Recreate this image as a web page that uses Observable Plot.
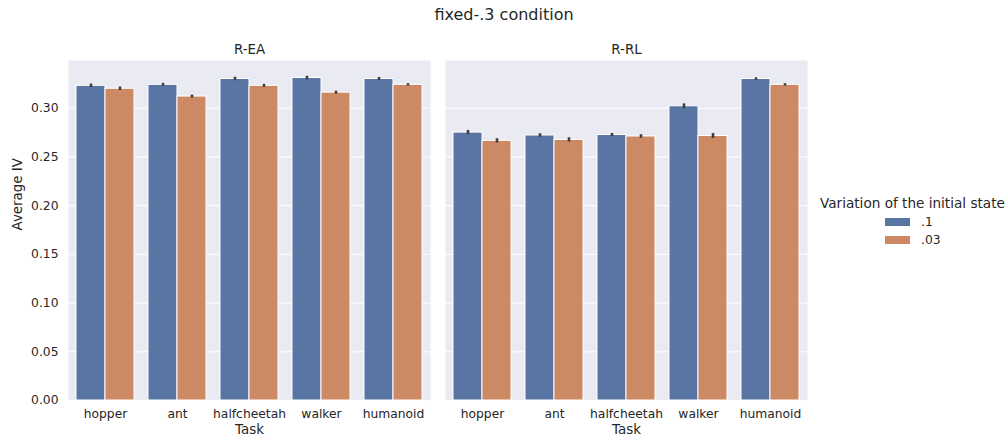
<!DOCTYPE html>
<html><head><meta charset="utf-8">
<script src="https://cdn.jsdelivr.net/npm/d3@7"></script>
<script src="https://cdn.jsdelivr.net/npm/@observablehq/plot@0.6"></script>
<style>
body{margin:0;background:#fff;font-family:"DejaVu Sans",sans-serif;color:#262626;}
#wrap{position:relative;width:1008px;height:441px;overflow:hidden;}
#title{position:absolute;left:0;top:0;width:1008px;text-align:center;font-size:16px;line-height:30px;}
#chart{position:absolute;left:0;top:28px;}
#legend{position:absolute;left:820px;top:195px;font-size:13.6px;white-space:nowrap;}
#legend .t{margin-bottom:2px;}
#legend .it{display:flex;align-items:center;margin-left:65px;height:18px;font-size:12.3px;}
#legend .sw{width:25px;height:8px;margin-right:11px;}
</style></head>
<body><div id="wrap"><div id="title">fixed-.3 condition</div><div id="chart"></div>
<div id="legend"><div class="t">Variation of the initial state</div>
<div class="it"><div class="sw" style="background:#5975a4"></div>.1</div>
<div class="it"><div class="sw" style="background:#cc8963"></div>.03</div></div></div>
<script>
const tasks = ["hopper","ant","halfcheetah","walker","humanoid"];
const panels = ["R-EA","R-RL"];
const variations = [".1",".03"];
const reaV1  = [0.323, 0.324, 0.330, 0.331, 0.330];
const reaV03 = [0.320, 0.312, 0.323, 0.316, 0.324];
const rrlV1  = [0.275, 0.272, 0.2725, 0.302, 0.330];
const rrlV03 = [0.2665, 0.2675, 0.271, 0.2715, 0.324];
const reaErrV1  = [0.0018, 0.0015, 0.0018, 0.0018, 0.0015];
const reaErrV03 = [0.0018, 0.0015, 0.0015, 0.0015, 0.0012];
const rrlErrV1  = [0.0022, 0.0018, 0.0016, 0.0025, 0.0012];
const rrlErrV03 = [0.0022, 0.0022, 0.0018, 0.0025, 0.0012];
const yTicks = [0, 0.05, 0.10, 0.15, 0.20, 0.25, 0.30];

const rows = [];
const series = [
  ["R-EA", ".1", reaV1, reaErrV1], ["R-EA", ".03", reaV03, reaErrV03],
  ["R-RL", ".1", rrlV1, rrlErrV1], ["R-RL", ".03", rrlV03, rrlErrV03]
];
for (const [panel, variation, vals, errs] of series)
  tasks.forEach((task, i) => rows.push({panel, variation, task, value: vals[i], err: errs[i]}));

const W = 1008, H = 413, mL = 68, mR = 200, mT = 32, mB = 41;
const gap = 15;
const facetPad = (2 * gap) / ((W - mL - mR) + gap);
const facetBand = ((W - mL - mR) - gap) / 2;
const half = (facetBand / 5) * 0.8 / 2;

const colors = {".1": "#5975a4", ".03": "#cc8963"};
const v1 = rows.filter(d => d.variation === ".1");
const v03 = rows.filter(d => d.variation === ".03");

const chart = Plot.plot({
  width: W, height: H, marginLeft: mL, marginRight: mR, marginTop: mT, marginBottom: mB,
  style: {fontFamily: "DejaVu Sans, sans-serif", fontSize: "12.3px", color: "#262626", background: "transparent"},
  fx: {domain: panels, paddingInner: facetPad, paddingOuter: 0, label: null},
  x: {domain: tasks, paddingInner: 0.2, paddingOuter: 0.1, label: null},
  y: {domain: [0, 0.349], label: null},
  marks: [
    Plot.frame({fill: "#eaeaf2", stroke: null}),
    Plot.gridY(yTicks, {stroke: "#ffffff", strokeOpacity: 1, strokeWidth: 1}),
    Plot.barY(v1, {fx: "panel", x: "task", y: "value", fill: colors[".1"], insetRight: half, stroke: "white", strokeWidth: 1}),
    Plot.barY(v03, {fx: "panel", x: "task", y: "value", fill: colors[".03"], insetLeft: half, stroke: "white", strokeWidth: 1}),
    Plot.ruleX(v1, {fx: "panel", x: "task", y1: d => d.value - d.err, y2: d => d.value + d.err, dx: -half / 2, stroke: "#3d3d3d", strokeWidth: 2.6}),
    Plot.ruleX(v03, {fx: "panel", x: "task", y1: d => d.value - d.err, y2: d => d.value + d.err, dx: half / 2, stroke: "#3d3d3d", strokeWidth: 2.6}),
    Plot.axisY({ticks: yTicks, tickFormat: d3.format(".2f"), tickSize: 0, tickPadding: 10, label: null, fontSize: 12.3}),
    Plot.axisX({tickSize: 0, tickPadding: 9, label: null, fontSize: 12.3}),
    Plot.axisFx({anchor: "top", tickSize: 0, tickPadding: 7, label: null, fontSize: 13.4}),
    Plot.text(panels, {fx: d => d, text: () => "Task", frameAnchor: "bottom", dy: 33, fontSize: 13.4}),
    Plot.text(["Average IV"], {fx: () => "R-EA", frameAnchor: "left", rotate: -90, dx: -51, fontSize: 13.4})
  ]
});
document.getElementById("chart").appendChild(chart);
</script></body></html>
